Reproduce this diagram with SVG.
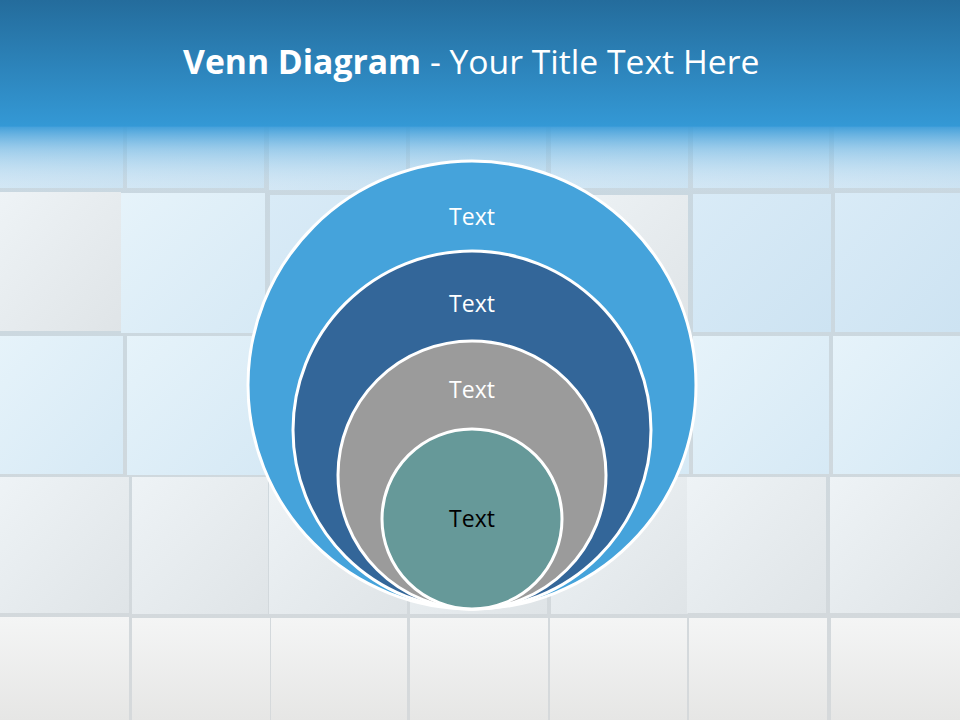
<svg xmlns="http://www.w3.org/2000/svg" width="960" height="720" viewBox="0 0 960 720">
  <style>
    .tile { stroke: none; }
    .ring { stroke: #ffffff; stroke-width: 3; }
    .lbl { font-family: "Open Sans", "Liberation Sans", sans-serif; font-size: 23px; text-anchor: middle; }
    .title { font-family: "Open Sans", "Liberation Sans", sans-serif; font-size: 33.7px; fill: #ffffff; }
  </style>
  <defs>
    <linearGradient id="bg" x1="0" y1="0" x2="0" y2="1">
      <stop offset="0" stop-color="#c6d7e2"/>
      <stop offset="0.5" stop-color="#ccd8df"/>
      <stop offset="1" stop-color="#d6d9db"/>
    </linearGradient>
    <linearGradient id="tileBlue" x1="0" y1="0" x2="1" y2="1">
      <stop offset="0" stop-color="#d9ebf7"/>
      <stop offset="1" stop-color="#cde3f2"/>
    </linearGradient>
    <linearGradient id="tileBlue2" x1="0" y1="0" x2="1" y2="1">
      <stop offset="0" stop-color="#e6f3fa"/>
      <stop offset="1" stop-color="#d6e9f5"/>
    </linearGradient>
    <linearGradient id="tileGrey" x1="0" y1="0" x2="1" y2="1">
      <stop offset="0" stop-color="#eef3f6"/>
      <stop offset="1" stop-color="#dfe4e7"/>
    </linearGradient>
    <linearGradient id="tileWhite" x1="0" y1="0" x2="0" y2="1">
      <stop offset="0" stop-color="#f4f5f5"/>
      <stop offset="1" stop-color="#e6e6e5"/>
    </linearGradient>
    <linearGradient id="header" x1="0" y1="0" x2="0" y2="1">
      <stop offset="0" stop-color="#246c9c"/>
      <stop offset="1" stop-color="#3499d6"/>
    </linearGradient>
    <linearGradient id="fade" x1="0" y1="0" x2="0" y2="1">
      <stop offset="0" stop-color="#3a9bd8" stop-opacity="0.95"/>
      <stop offset="0.35" stop-color="#6db5e2" stop-opacity="0.55"/>
      <stop offset="1" stop-color="#c8e2f3" stop-opacity="0"/>
    </linearGradient>
  </defs>

  <!-- background tiles -->
  <g id="background">
    <rect x="0" y="0" width="960" height="720" fill="url(#bg)"/>
    <!-- row 0 -->
    <rect class="tile" x="0" y="125" width="123" height="63" fill="url(#tileBlue)"/>
    <rect class="tile" x="127" y="125" width="137" height="63" fill="url(#tileBlue)"/>
    <rect class="tile" x="269" y="125" width="137" height="65" fill="url(#tileBlue)"/>
    <rect class="tile" x="410" y="125" width="136" height="65" fill="url(#tileBlue)"/>
    <rect class="tile" x="551" y="125" width="137" height="63" fill="url(#tileBlue)"/>
    <rect class="tile" x="693" y="125" width="136" height="63" fill="url(#tileBlue)"/>
    <rect class="tile" x="834" y="125" width="126" height="63" fill="url(#tileBlue)"/>
    <!-- row 1 -->
    <rect class="tile" x="0" y="192" width="121" height="139" fill="url(#tileGrey)"/>
    <rect class="tile" x="121" y="193" width="144" height="140" fill="url(#tileBlue2)"/>
    <rect class="tile" x="270" y="195" width="138" height="138" fill="url(#tileBlue)"/>
    <rect class="tile" x="411" y="195" width="136" height="138" fill="url(#tileGrey)"/>
    <rect class="tile" x="552" y="195" width="136" height="137" fill="url(#tileGrey)"/>
    <rect class="tile" x="693" y="194" width="138" height="138" fill="url(#tileBlue)"/>
    <rect class="tile" x="835" y="193" width="125" height="139" fill="url(#tileBlue)"/>
    <!-- row 2 -->
    <rect class="tile" x="0" y="336" width="123" height="138" fill="url(#tileBlue2)"/>
    <rect class="tile" x="127" y="336" width="138" height="139" fill="url(#tileBlue2)"/>
    <rect class="tile" x="269" y="336" width="138" height="139" fill="url(#tileBlue2)"/>
    <rect class="tile" x="410" y="336" width="137" height="139" fill="url(#tileBlue2)"/>
    <rect class="tile" x="551" y="336" width="138" height="138" fill="url(#tileBlue2)"/>
    <rect class="tile" x="693" y="336" width="136" height="138" fill="url(#tileBlue2)"/>
    <rect class="tile" x="833" y="336" width="127" height="138" fill="url(#tileBlue2)"/>
    <!-- row 3 -->
    <rect class="tile" x="0" y="477" width="129" height="136" fill="url(#tileGrey)"/>
    <rect class="tile" x="132" y="477" width="136" height="137" fill="url(#tileGrey)"/>
    <rect class="tile" x="269" y="477" width="138" height="137" fill="url(#tileGrey)"/>
    <rect class="tile" x="410" y="477" width="137" height="137" fill="url(#tileGrey)"/>
    <rect class="tile" x="551" y="477" width="137" height="137" fill="url(#tileGrey)"/>
    <rect class="tile" x="687" y="477" width="139" height="136" fill="url(#tileGrey)"/>
    <rect class="tile" x="830" y="477" width="130" height="136" fill="url(#tileGrey)"/>
    <!-- row 4 -->
    <rect class="tile" x="0" y="617" width="129" height="103" fill="url(#tileWhite)"/>
    <rect class="tile" x="132" y="618" width="138" height="102" fill="url(#tileWhite)"/>
    <rect class="tile" x="271" y="618" width="136" height="102" fill="url(#tileWhite)"/>
    <rect class="tile" x="410" y="618" width="138" height="102" fill="url(#tileWhite)"/>
    <rect class="tile" x="550" y="618" width="137" height="102" fill="url(#tileWhite)"/>
    <rect class="tile" x="689" y="618" width="138" height="102" fill="url(#tileWhite)"/>
    <rect class="tile" x="831" y="618" width="129" height="102" fill="url(#tileWhite)"/>
    <!-- header -->
    <rect x="0" y="0" width="960" height="127" fill="url(#header)"/>
    <rect x="0" y="126" width="960" height="66" fill="url(#fade)"/>
  </g>

  <g id="title">
    <text class="title" x="183" y="74"><tspan font-weight="bold">Venn Diagram</tspan> - Your Title Text Here</text>
  </g>

  <g id="circle-outer">
    <circle class="ring" cx="472" cy="385" r="224" fill="#45a3db"/>
    <text class="lbl" x="472" y="225" fill="#ffffff">Text</text>
  </g>
  <g id="circle-second">
    <circle class="ring" cx="472" cy="430" r="179" fill="#336699"/>
    <text class="lbl" x="472" y="312" fill="#ffffff">Text</text>
  </g>
  <g id="circle-third">
    <circle class="ring" cx="472" cy="475" r="134" fill="#9b9b9b"/>
    <text class="lbl" x="472" y="398" fill="#ffffff">Text</text>
  </g>
  <g id="circle-inner">
    <circle class="ring" cx="472" cy="519" r="90" fill="#669999"/>
    <text class="lbl" x="472" y="527" fill="#000000">Text</text>
  </g>
</svg>
